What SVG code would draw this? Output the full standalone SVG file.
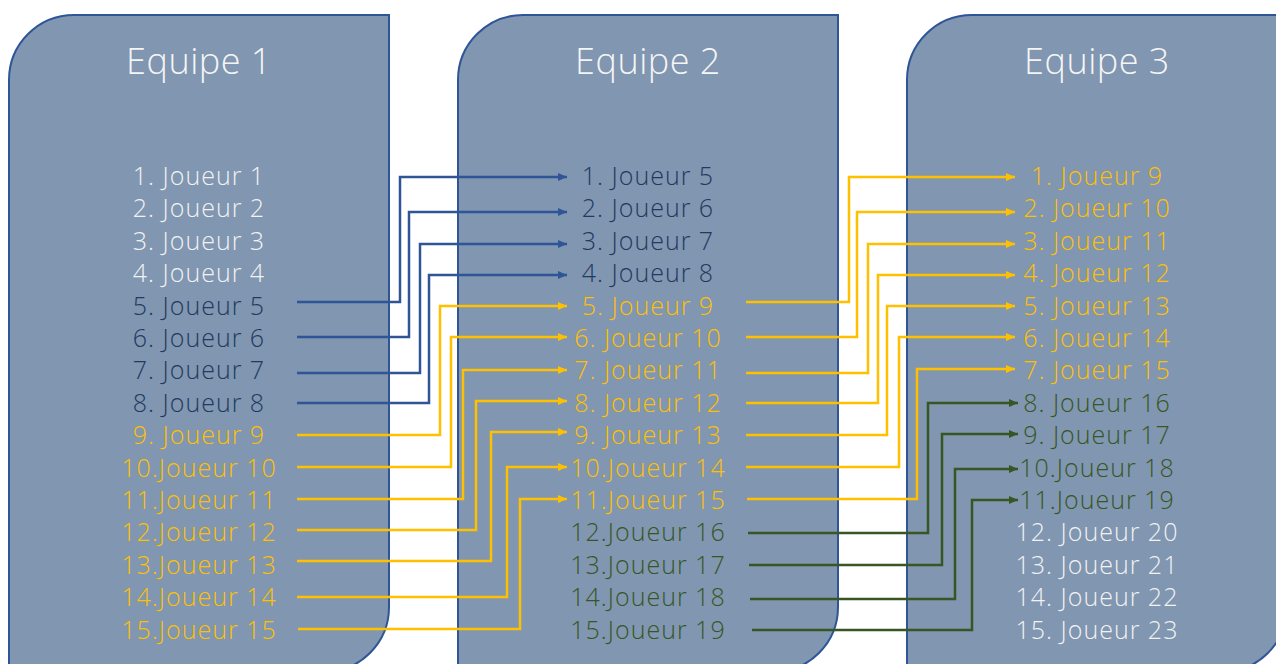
<svg xmlns="http://www.w3.org/2000/svg" width="1276" height="664" viewBox="0 0 1276 664">
<defs>
<style>
.box{fill:#8096B1;stroke:#2F5597;stroke-width:2}
.t{font-family:"Open Sans","Liberation Sans",sans-serif;font-weight:300;text-anchor:middle}
.title{font-size:36px;fill:#F5F5F5;letter-spacing:0.5px}
.it{font-size:25px;letter-spacing:1px}
.w{fill:#F2F2F2}
.n{fill:#223A5E}
.y{fill:#FFC000}
.g{fill:#375623}
.c{fill:none;stroke-width:2.5}
.cb{stroke:#2F5597}
.cy{stroke:#FFC000}
.cg{stroke:#375623}
</style>
<marker id="ab" markerUnits="userSpaceOnUse" markerWidth="10" markerHeight="8" refX="9" refY="4" orient="auto"><path d="M0,0 L9,4 L0,8 Z" fill="#2F5597"/></marker>
<marker id="ay" markerUnits="userSpaceOnUse" markerWidth="10" markerHeight="8" refX="9" refY="4" orient="auto"><path d="M0,0 L9,4 L0,8 Z" fill="#FFC000"/></marker>
<marker id="ag" markerUnits="userSpaceOnUse" markerWidth="10" markerHeight="8" refX="9" refY="4" orient="auto"><path d="M0,0 L9,4 L0,8 Z" fill="#375623"/></marker>
</defs>

<g id="equipe1">
<path class="box" d="M74,15 H389 V607 A65,65 0 0 1 324,672 H9 V80 A65,65 0 0 1 74,15 Z"/>
<text class="t title" x="199" y="74">Equipe 1</text>
<text class="t it w" x="199" y="185">1. Joueur 1</text>
<text class="t it w" x="199" y="217.4">2. Joueur 2</text>
<text class="t it w" x="199" y="249.8">3. Joueur 3</text>
<text class="t it w" x="199" y="282.2">4. Joueur 4</text>
<text class="t it n" x="199" y="314.6">5. Joueur 5</text>
<text class="t it n" x="199" y="347">6. Joueur 6</text>
<text class="t it n" x="199" y="379.4">7. Joueur 7</text>
<text class="t it n" x="199" y="411.8">8. Joueur 8</text>
<text class="t it y" x="199" y="444.2">9. Joueur 9</text>
<text class="t it y" x="199" y="476.6">10.Joueur 10</text>
<text class="t it y" x="199" y="509">11.Joueur 11</text>
<text class="t it y" x="199" y="541.4">12.Joueur 12</text>
<text class="t it y" x="199" y="573.8">13.Joueur 13</text>
<text class="t it y" x="199" y="606.2">14.Joueur 14</text>
<text class="t it y" x="199" y="638.6">15.Joueur 15</text>
</g>

<g id="equipe2">
<path class="box" d="M523,15 H838 V607 A65,65 0 0 1 773,672 H458 V80 A65,65 0 0 1 523,15 Z"/>
<text class="t title" x="648" y="74">Equipe 2</text>
<text class="t it n" x="648" y="185">1. Joueur 5</text>
<text class="t it n" x="648" y="217.4">2. Joueur 6</text>
<text class="t it n" x="648" y="249.8">3. Joueur 7</text>
<text class="t it n" x="648" y="282.2">4. Joueur 8</text>
<text class="t it y" x="648" y="314.6">5. Joueur 9</text>
<text class="t it y" x="648" y="347">6. Joueur 10</text>
<text class="t it y" x="648" y="379.4">7. Joueur 11</text>
<text class="t it y" x="648" y="411.8">8. Joueur 12</text>
<text class="t it y" x="648" y="444.2">9. Joueur 13</text>
<text class="t it y" x="648" y="476.6">10.Joueur 14</text>
<text class="t it y" x="648" y="509">11.Joueur 15</text>
<text class="t it g" x="648" y="541.4">12.Joueur 16</text>
<text class="t it g" x="648" y="573.8">13.Joueur 17</text>
<text class="t it g" x="648" y="606.2">14.Joueur 18</text>
<text class="t it g" x="648" y="638.6">15.Joueur 19</text>
</g>

<g id="equipe3">
<path class="box" d="M972,15 H1287 V607 A65,65 0 0 1 1222,672 H907 V80 A65,65 0 0 1 972,15 Z"/>
<text class="t title" x="1097" y="74">Equipe 3</text>
<text class="t it y" x="1097" y="185">1. Joueur 9</text>
<text class="t it y" x="1097" y="217.4">2. Joueur 10</text>
<text class="t it y" x="1097" y="249.8">3. Joueur 11</text>
<text class="t it y" x="1097" y="282.2">4. Joueur 12</text>
<text class="t it y" x="1097" y="314.6">5. Joueur 13</text>
<text class="t it y" x="1097" y="347">6. Joueur 14</text>
<text class="t it y" x="1097" y="379.4">7. Joueur 15</text>
<text class="t it g" x="1097" y="411.8">8. Joueur 16</text>
<text class="t it g" x="1097" y="444.2">9. Joueur 17</text>
<text class="t it g" x="1097" y="476.6">10.Joueur 18</text>
<text class="t it g" x="1097" y="509">11.Joueur 19</text>
<text class="t it w" x="1097" y="541.4">12. Joueur 20</text>
<text class="t it w" x="1097" y="573.8">13. Joueur 21</text>
<text class="t it w" x="1097" y="606.2">14. Joueur 22</text>
<text class="t it w" x="1097" y="638.6">15. Joueur 23</text>
</g>

<g id="connectors">
<path class="c cb" marker-end="url(#ab)" d="M297,302 H400 V177 H567"/>
<path class="c cb" marker-end="url(#ab)" d="M297,337 H409 V212 H567"/>
<path class="c cb" marker-end="url(#ab)" d="M297,373 H420 V244 H567"/>
<path class="c cb" marker-end="url(#ab)" d="M297,403 H429 V275 H567"/>

<path class="c cy" marker-end="url(#ay)" d="M297,435 H440 V306 H567"/>
<path class="c cy" marker-end="url(#ay)" d="M297,467 H451 V337 H567"/>
<path class="c cy" marker-end="url(#ay)" d="M297,499 H463 V370 H567"/>
<path class="c cy" marker-end="url(#ay)" d="M297,530 H476 V401 H567"/>
<path class="c cy" marker-end="url(#ay)" d="M297,561 H491 V432 H567"/>
<path class="c cy" marker-end="url(#ay)" d="M297,597 H507 V467 H567"/>
<path class="c cy" marker-end="url(#ay)" d="M298,629 H520 V499 H567"/>

<path class="c cy" marker-end="url(#ay)" d="M746,302 H849 V177 H1015"/>
<path class="c cy" marker-end="url(#ay)" d="M746,337 H857 V212 H1015"/>
<path class="c cy" marker-end="url(#ay)" d="M746,373 H868 V244 H1015"/>
<path class="c cy" marker-end="url(#ay)" d="M746,403 H878 V275 H1015"/>
<path class="c cy" marker-end="url(#ay)" d="M746,435 H887 V306 H1015"/>
<path class="c cy" marker-end="url(#ay)" d="M746,467 H899 V337 H1015"/>
<path class="c cy" marker-end="url(#ay)" d="M747,499 H917 V369 H1015"/>

<path class="c cg" marker-end="url(#ag)" d="M748,533 H928 V403 H1018"/>
<path class="c cg" marker-end="url(#ag)" d="M749,565 H942 V434 H1018"/>
<path class="c cg" marker-end="url(#ag)" d="M750,599 H955 V469 H1018"/>
<path class="c cg" marker-end="url(#ag)" d="M752,630 H972 V500 H1018"/>
</g>
</svg>
